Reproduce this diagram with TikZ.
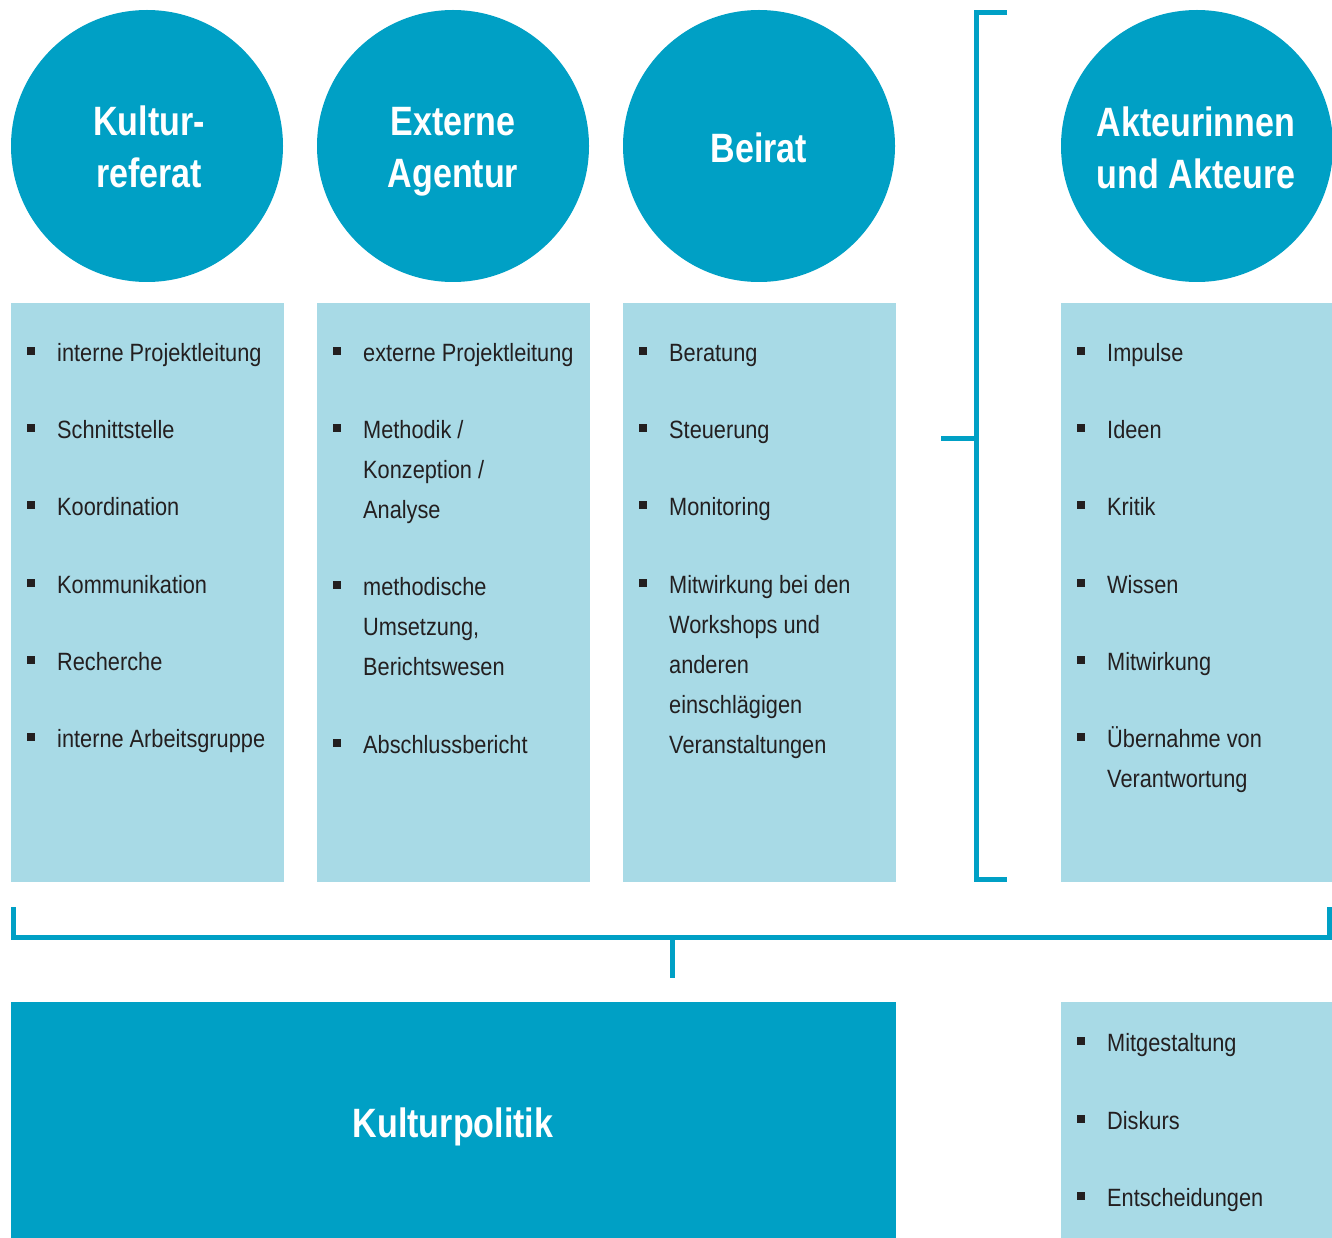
\documentclass[tikz,border=0pt]{standalone}
\usepackage{fontspec}
\setmainfont{Liberation Sans}[FakeStretch=0.87]
\newfontfamily\tfont{Liberation Sans}[FakeStretch=0.83]
\definecolor{dblue}{RGB}{0,160,197}
\definecolor{lblue}{RGB}{168,218,230}
\definecolor{txt}{RGB}{35,31,32}
\newcommand\bitem[4]{%
  \node[bul] (#1b) at ({#2+20},{#3-10}) {};
  \node[itm] (#1) at ({#2+46},#3) {\parbox[t]{240pt}{#4}};}
\begin{document}
\begin{tikzpicture}[x=1pt,y=-1pt,
  circ/.style={circle,fill=dblue,minimum size=272pt,inner sep=0pt},
  ttl/.style={text=white,inner sep=0pt,
    font={\tfont\fontsize{41}{52}\selectfont\bfseries},align=center},
  lbox/.style={fill=lblue,draw=none},
  bul/.style={fill=txt,minimum size=7.5pt,inner sep=0pt,rectangle},
  itm/.style={anchor=base west,inner sep=0pt,text=txt,
    font={\fontsize{25}{40}\selectfont}},
  brk/.style={draw=dblue,line width=5pt}]
\useasboundingbox (0,0) rectangle (1332,1238);
\fill[white] (0,0) rectangle (1332,1238);
% circles
\node[circ] (c1) at (147,146) {};
\node[circ] (c2) at (453,146) {};
\node[circ] (c3) at (759,146) {};
\node[circ] (c4) at (1197,146) {};
\node[ttl] (t1) at (149,147) {Kultur-\\referat};
\node[ttl] (t2) at (453,152) {Externe\\Agentur};
\node[ttl] (t3) at (759,148) {Beirat};
\node[ttl] (t4) at (1196,148) {Akteurinnen\\und Akteure};
% boxes
\fill[lbox] (11,303) rectangle (284,882);
\fill[lbox] (317,303) rectangle (590,882);
\fill[lbox] (623,303) rectangle (896,882);
\fill[lbox] (1061,303) rectangle (1332,882);
\fill[lbox] (1061,1002) rectangle (1332,1238);
\node[fill=dblue,minimum width=885pt,minimum height=236pt,inner sep=0pt,anchor=north west] (kp) at (11,1002) {};
\node[ttl] (kpt) at (453,1127) {Kulturpolitik};
% column 1
\bitem{a1}{11}{361}{interne Projektleitung}
\bitem{a2}{11}{438}{Schnittstelle}
\bitem{a3}{11}{515}{Koordination}
\bitem{a4}{11}{593}{Kommunikation}
\bitem{a5}{11}{670}{Recherche}
\bitem{a6}{11}{747}{interne Arbeitsgruppe}
% column 2
\bitem{b1}{317}{361}{externe Projektleitung}
\bitem{b2}{317}{438}{Methodik /\\Konzeption /\\Analyse}
\bitem{b3}{317}{595}{methodische\\Umsetzung,\\Berichtswesen}
\bitem{b4}{317}{753}{Abschlussbericht}
% column 3
\bitem{d1}{623}{361}{Beratung}
\bitem{d2}{623}{438}{Steuerung}
\bitem{d3}{623}{515}{Monitoring}
\bitem{d4}{623}{593}{Mitwirkung bei den\\Workshops und\\anderen\\einschlägigen\\Veranstaltungen}
% column 4
\bitem{e1}{1061}{361}{Impulse}
\bitem{e2}{1061}{438}{Ideen}
\bitem{e3}{1061}{515}{Kritik}
\bitem{e4}{1061}{593}{Wissen}
\bitem{e5}{1061}{670}{Mitwirkung}
\bitem{e6}{1061}{747}{Übernahme von\\Verantwortung}
% bottom right
\bitem{f1}{1061}{1051}{Mitgestaltung}
\bitem{f2}{1061}{1129}{Diskurs}
\bitem{f3}{1061}{1206}{Entscheidungen}
% right bracket
\coordinate (rt) at (1007,12.5);
\coordinate (rb) at (1007,879);
\coordinate (rm) at (941,438);
\draw[brk] (rt) -- (976.5,12.5) -- (976.5,879) -- (rb);
\draw[brk] (rm) -- (976.5,438);
% bottom bracket
\coordinate (bl) at (13.5,907);
\coordinate (br) at (1329.5,907);
\coordinate (bs) at (672,978);
\draw[brk] (bl) -- (13.5,937.5) -- (1329.5,937.5) -- (br);
\draw[brk] (672,937.5) -- (bs);
\end{tikzpicture}
\end{document}
